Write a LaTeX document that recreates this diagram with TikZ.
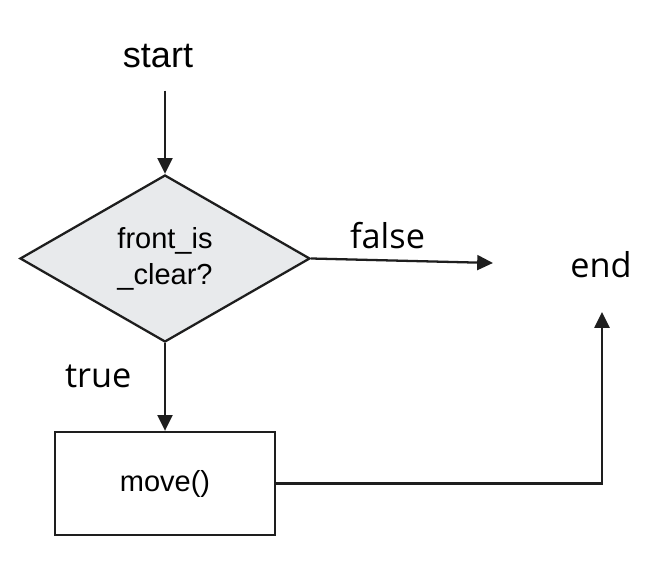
\documentclass[tikz,border=0pt]{standalone}
\usepackage{fontspec}
\setmainfont{Liberation Sans}
\newfontfamily\labelfont{Open Sans}
\usetikzlibrary{arrows.meta,positioning,shapes.geometric}
\definecolor{linegray}{RGB}{30,30,30}
\definecolor{condgray}{RGB}{232,234,236}
\tikzset{
  term/.style={
    inner sep=0pt,
    font=\fontsize{20.5}{24}\selectfont
  },
  cond/.style={
    diamond,
    draw=linegray,
    fill=condgray,
    line width=1.3pt,
    inner sep=0pt,
    align=center,
    minimum width=5.8cm,
    minimum height=3.34cm,
    font=\fontsize{16.5}{20.5}\selectfont
  },
  action/.style={
    rectangle,
    draw=linegray,
    line width=1.3pt,
    align=center,
    minimum width=4.4cm,
    minimum height=2.06cm,
    font=\fontsize{16.5}{20}\selectfont
  },
  branch/.style={
    inner sep=0pt,
    font=\labelfont\fontsize{19.5}{22}\selectfont
  },
  arrow/.style={-{Triangle[length=9pt,width=8.5pt]}, line width=1.3pt, draw=linegray}
}

\begin{document}
\begin{tikzpicture}
        \useasboundingbox (0,0) rectangle (13.16,-11.32);
        \node[term] (start) at (3.16,-1.12) {start};
        \node[cond] (test) at (3.3,-5.17) {front\_is\\\_clear?};
        \node[action] (move) at (3.3,-9.67) {move()};
        \node[branch] (end) at (12.02,-5.3) {end};
        \coordinate (falseout) at (9.86,-5.26);
        \coordinate (endin) at (12.04,-6.24);

        \draw[arrow, shorten <=0.45cm] (start.south -| test.north) -- (test.north);
        \draw[arrow] (test.east) -- (falseout)
          node[branch, pos=0.42, above=0.2cm] (falselbl) {false};
        \draw[arrow] (test.south) -- (move.north)
          node[branch, pos=0.38, left=0.65cm] (truelbl) {true};
        \draw[arrow] (move.east) -| (endin);
      \end{tikzpicture}
\end{document}
